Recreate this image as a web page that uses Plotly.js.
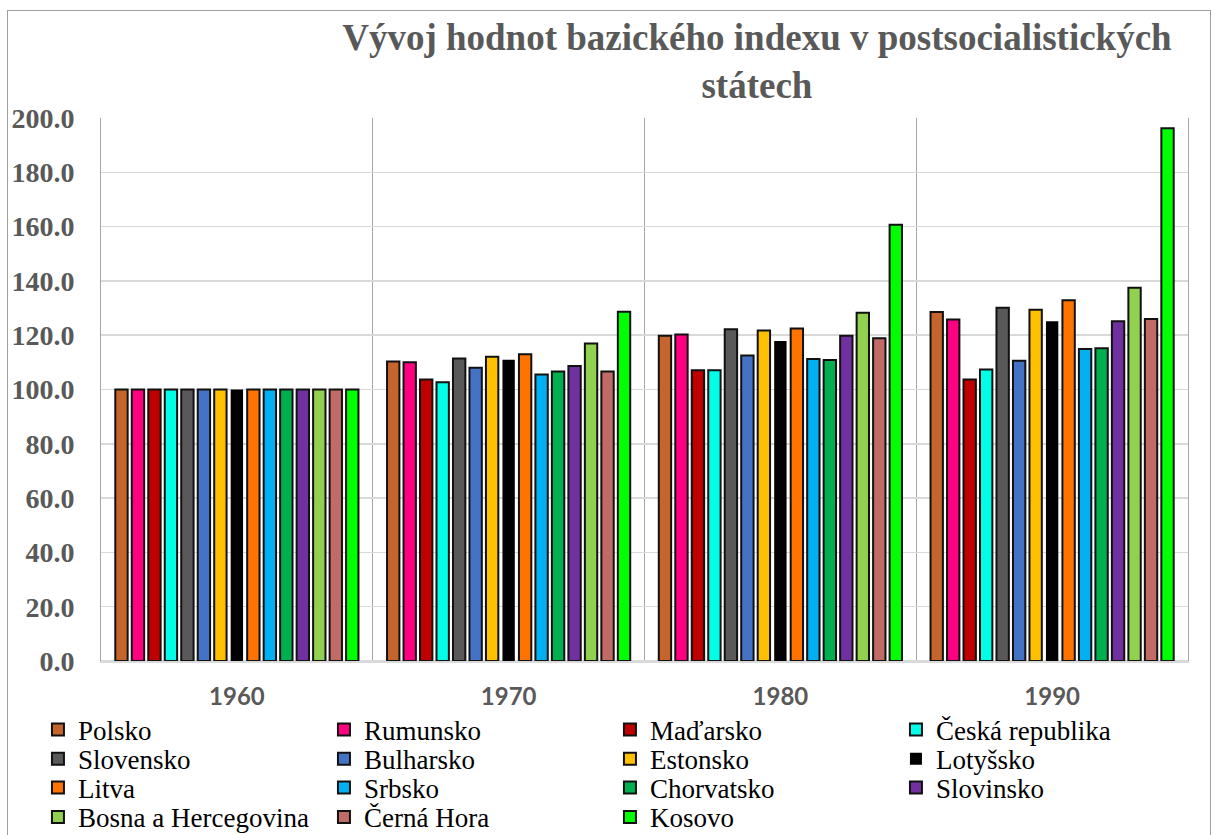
<!DOCTYPE html>
<html>
<head>
<meta charset="utf-8">
<script src="https://cdn.plot.ly/plotly-3.0.1.min.js"></script>
<style>
  html, body { margin: 0; padding: 0; background: #ffffff; }
  #chart { position: absolute; left: 0; top: 0; width: 1215px; height: 835px; }
  #frame { position: absolute; left: 7px; top: 10px; width: 1202px; height: 900px;
           border: 1.5px solid #a0a0a0; pointer-events: none; z-index: 10; }
</style>
</head>
<body>
<div id="chart"></div>
<div id="frame"></div>
<script>
// ---- data ----
const years = ['1960', '1970', '1980', '1990'];
const countries = ['Polsko', 'Rumunsko', 'Maďarsko', 'Česká republika',
                   'Slovensko', 'Bulharsko', 'Estonsko', 'Lotyšsko',
                   'Litva', 'Srbsko', 'Chorvatsko', 'Slovinsko',
                   'Bosna a Hercegovina', 'Černá Hora', 'Kosovo'];
const polsko      = [100, 110.3, 119.8, 128.5];
const rumunsko    = [100, 110.0, 120.3, 125.8];
const madarsko    = [100, 103.7, 107.1, 103.7];
const ceska       = [100, 102.7, 107.1, 107.4];
const slovensko   = [100, 111.4, 122.2, 130.1];
const bulharsko   = [100, 108.0, 112.5, 110.6];
const estonsko    = [100, 112.1, 121.7, 129.4];
const lotyssko    = [100, 111.0, 117.9, 125.1];
const litva       = [100, 113.0, 122.5, 132.9];
const srbsko      = [100, 105.5, 111.2, 114.9];
const chorvatsko  = [100, 106.6, 110.9, 115.2];
const slovinsko   = [100, 108.7, 119.8, 125.1];
const bosna       = [100, 116.9, 128.3, 137.5];
const cernaHora   = [100, 106.6, 118.9, 126.0];
const kosovo      = [100, 128.6, 160.7, 196.2];

const series = [polsko, rumunsko, madarsko, ceska, slovensko, bulharsko, estonsko,
                lotyssko, litva, srbsko, chorvatsko, slovinsko, bosna, cernaHora, kosovo];

// ---- styles ----
const colors = ['#C5652B', '#FF0080', '#C00000', '#00FFE6', '#595959', '#4472C4', '#FFC000',
                '#000000', '#FF7400', '#00B0F0', '#00B050', '#7030A0', '#92D050', '#C06B66', '#00FF00'];
const legendIds = ['legend', 'legend2', 'legend3', 'legend4'];
const serifFont = "'Liberation Serif', 'Times New Roman', serif";

const traces = countries.map((name, i) => ({
  type: 'bar',
  name: name,
  x: years,
  y: series[i],
  marker: {
    color: colors[i],
    line: { color: '#111111', width: name === 'Lotyšsko' ? 0 : 2 }
  },
  legend: legendIds[Math.floor(i / 4)],
  hoverinfo: 'name+y'
}));

function legendRow(yPaper) {
  return {
    orientation: 'h',
    x: -0.058, xanchor: 'left',
    y: yPaper, yanchor: 'middle',
    entrywidth: 241, entrywidthmode: 'pixels',
    font: { family: serifFont, size: 27, color: '#000000' },
    bgcolor: 'rgba(0,0,0,0)',
    borderwidth: 0,
    traceorder: 'normal'
  };
}

const layout = {
  width: 1215, height: 835,
  margin: { l: 101, r: 27, t: 118, b: 174, autoexpand: false },
  paper_bgcolor: '#ffffff',
  plot_bgcolor: '#ffffff',
  barmode: 'group',
  bargap: 0.09,
  bargroupgap: 0.25,
  title: {
    text: 'Vývoj hodnot bazického indexu v postsocialistických<br>státech',
    font: { family: serifFont, size: 37, color: '#595959', weight: 'bold' },
    x: 0.623, xref: 'container', xanchor: 'center',
    y: 0.94, yref: 'container', yanchor: 'top'
  },
  xaxis: {
    type: 'category',
    tickson: 'boundaries',
    showgrid: true, gridcolor: '#A6A6A6', gridwidth: 1,
    ticks: '',
    showline: true, linecolor: '#D9D9D9', linewidth: 1.5,
    tickfont: { family: 'Lato, Open Sans, sans-serif', size: 24, color: '#595959', weight: 'bold' },
    ticklabelstandoff: 14
  },
  yaxis: {
    range: [0, 200],
    dtick: 20,
    tickformat: '.1f',
    showgrid: true, gridcolor: '#D9D9D9', gridwidth: 1.5,
    zeroline: true, zerolinecolor: '#D9D9D9', zerolinewidth: 1.5,
    showline: true, linecolor: '#A6A6A6', linewidth: 1, mirror: true,
    ticks: '',
    tickfont: { family: serifFont, size: 28, color: '#595959', weight: 'bold' },
    ticklabelstandoff: 20
  },
  legend:  legendRow(-0.127),
  legend2: legendRow(-0.181),
  legend3: legendRow(-0.234),
  legend4: legendRow(-0.288),
  showlegend: true
};

Plotly.newPlot('chart', traces, layout, { displayModeBar: false, staticPlot: true });
</script>
</body>
</html>
